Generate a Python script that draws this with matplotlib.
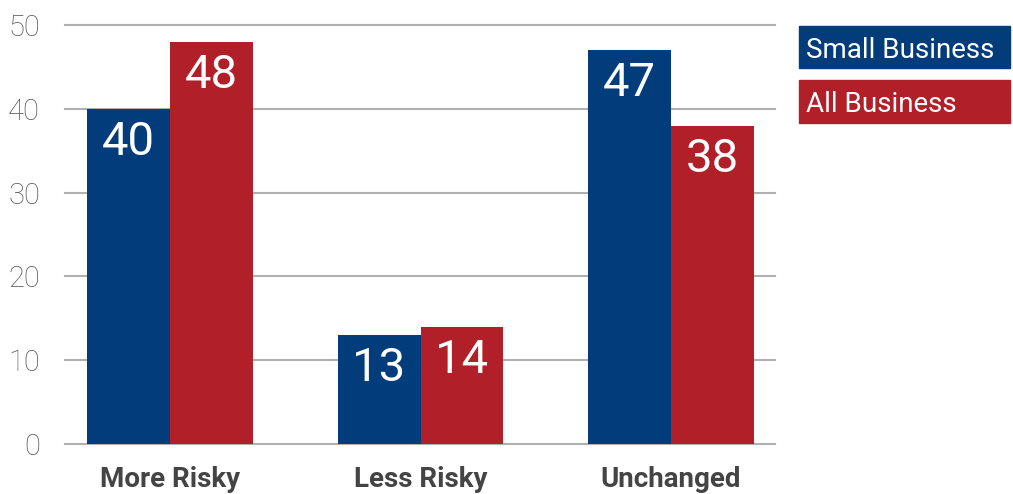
import matplotlib
matplotlib.use("Agg")
import matplotlib.pyplot as plt
from matplotlib.patches import Rectangle
import numpy as np

categories = ["More Risky", "Less Risky", "Unchanged"]
small_business = [40, 13, 47]
all_business = [48, 14, 38]
series_names = ["Small Business", "All Business"]
yticks = [0, 10, 20, 30, 40, 50]

BLUE = "#023c7b"
RED = "#b11f29"
GRID = "#b0b0b0"

plt.rcParams["font.family"] = ["Roboto", "DejaVu Sans"]

fig = plt.figure(figsize=(10.13, 4.94), dpi=100)
ax = fig.add_axes([65 / 1013, 50 / 494, 710 / 1013, 419 / 494])

x = np.arange(len(categories))
w = 0.331
b1 = ax.bar(x - w / 2, small_business, width=w, color=BLUE, zorder=3)
b2 = ax.bar(x + w / 2, all_business, width=w, color=RED, zorder=3)

for bars, vals in ((b1, small_business), (b2, all_business)):
    for rect, v in zip(bars, vals):
        ax.annotate(str(v), (rect.get_x() + rect.get_width() / 2, v),
                    xytext=(0, -8), textcoords="offset points",
                    ha="center", va="top", color="white", fontsize=34,
                    fontweight="normal", zorder=4)

ax.set_xlim(-0.419, 2.415)
ax.set_ylim(0, 50)
ax.set_yticks(yticks)
ax.set_xticks(x)
ax.set_xticklabels(categories, fontsize=20, fontweight="bold", color="#444444")
ax.tick_params(axis="x", length=0, pad=16)
ax.tick_params(axis="y", length=0, pad=18, labelsize=21, labelcolor="#555555")
for lbl in ax.get_yticklabels():
    lbl.set_fontweight("light")

for s in ax.spines.values():
    s.set_visible(False)
ax.yaxis.grid(True, color=GRID, linewidth=1.5, zorder=0)
ax.set_axisbelow(True)
for gl in ax.get_ygridlines():
    gl.set_clip_on(False)

# Legend drawn as filled boxes with white labels
for (y0, y1), name, col in (((26, 68), series_names[0], BLUE),
                            ((80, 123), series_names[1], RED)):
    fig.patches.append(Rectangle((799 / 1013, 1 - y1 / 494), 211 / 1013,
                                 (y1 - y0) / 494, transform=fig.transFigure,
                                 color=col, zorder=1))
    fig.text(806 / 1013, 1 - (y0 + y1) / 2 / 494, name, color="white",
             fontsize=20, ha="left", va="center_baseline", zorder=2)

fig.savefig("out.png", dpi=100)
